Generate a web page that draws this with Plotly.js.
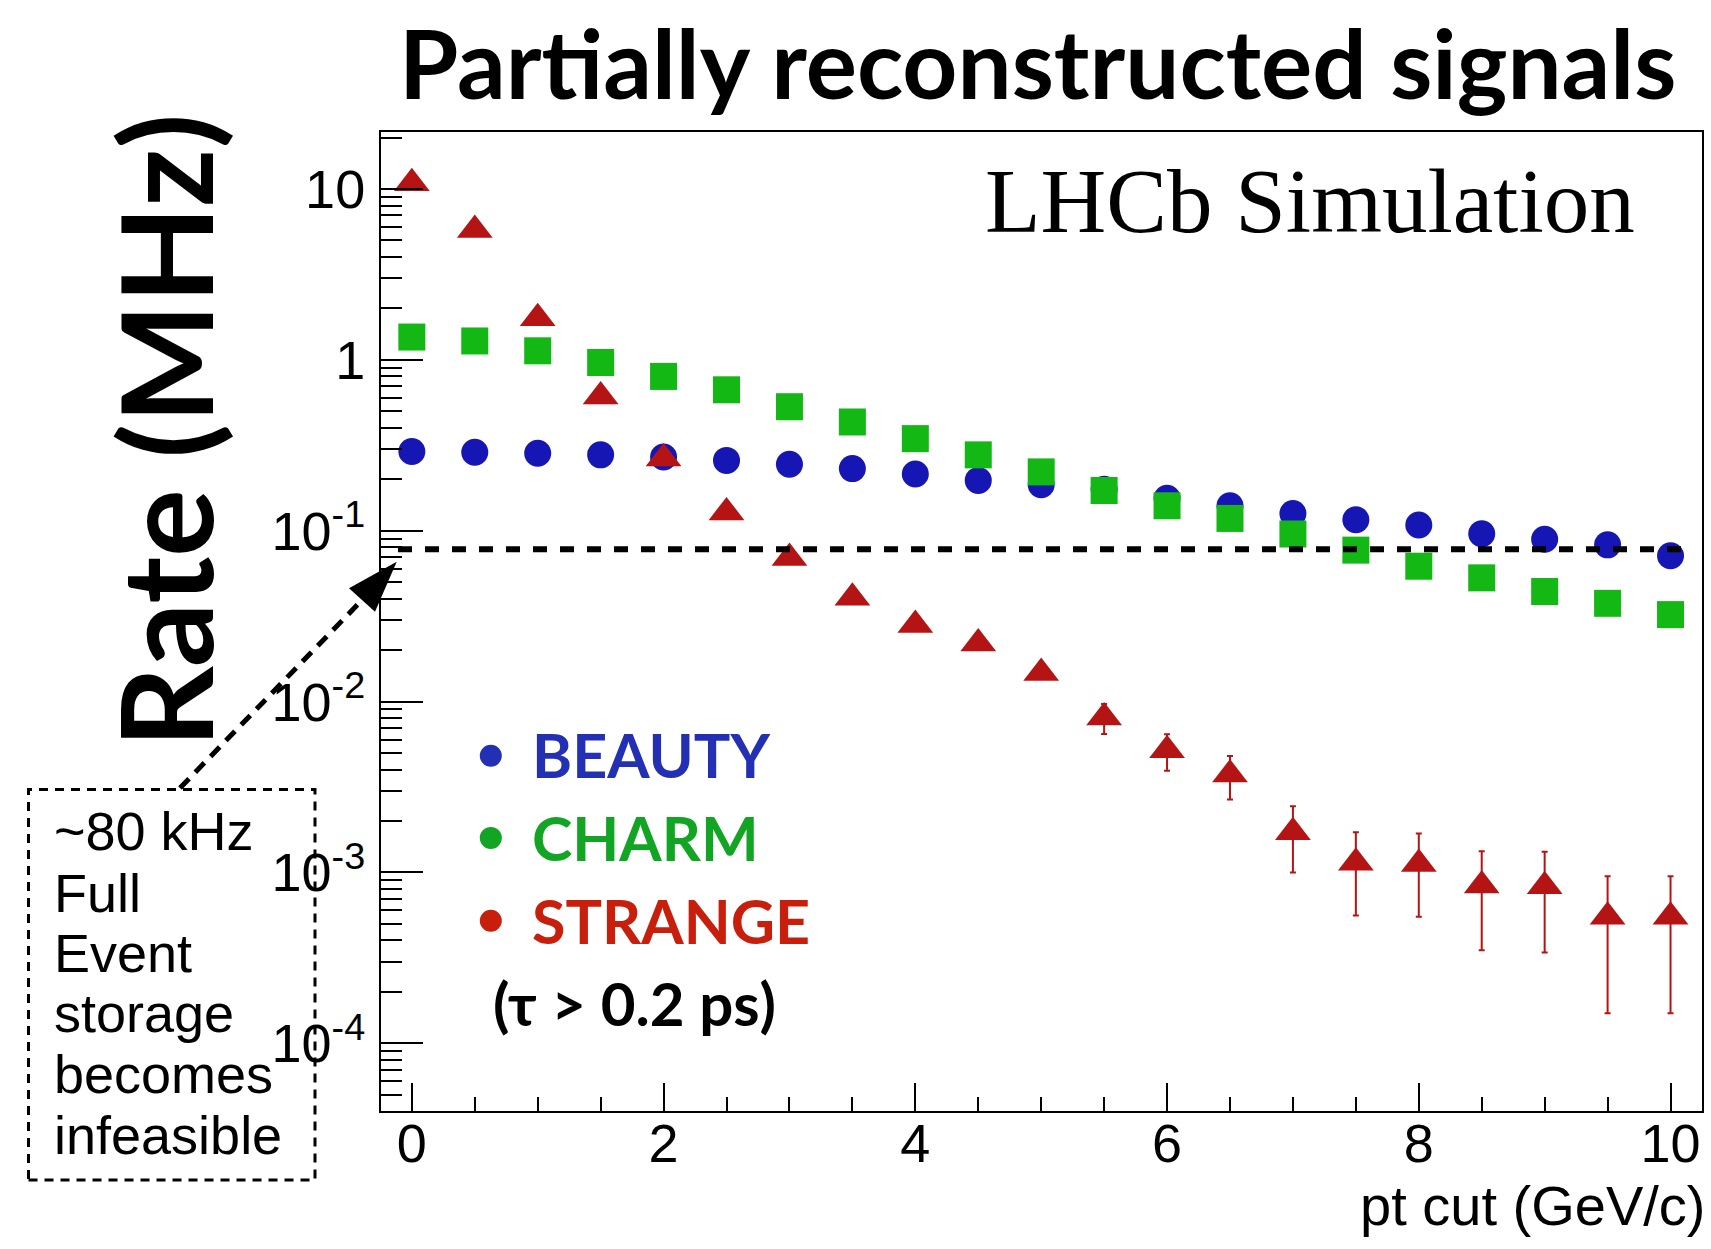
<!DOCTYPE html>
<html>
<head>
<meta charset="utf-8">
<script src="https://cdn.plot.ly/plotly-3.0.1.min.js"></script>
<style>
html,body{margin:0;padding:0;background:#ffffff;}
#chart{width:1711px;height:1249px;}
</style>
</head>
<body>
<div id="chart"></div>
<script>
// ---------------- data ----------------
const ptCut = [0, 0.5, 1, 1.5, 2, 2.5, 3, 3.5, 4, 4.5, 5, 5.5, 6, 6.5, 7, 7.5, 8, 8.5, 9, 9.5, 10];
const beautyRate = [0.291, 0.288, 0.284, 0.278, 0.270, 0.258, 0.245, 0.231, 0.215, 0.197, 0.186, 0.175, 0.155, 0.140, 0.126, 0.116, 0.108, 0.096, 0.0892, 0.0827, 0.0714];
const charmRate = [1.36, 1.29, 1.13, 0.965, 0.80, 0.668, 0.532, 0.433, 0.346, 0.278, 0.221, 0.172, 0.140, 0.118, 0.0957, 0.0770, 0.0620, 0.0530, 0.0441, 0.0376, 0.0323];
const strangeRate = [10.8, 5.75, 1.75, 0.61, 0.265, 0.128, 0.0692, 0.0406, 0.0281, 0.0219, 0.0147, 0.00807, 0.00519, 0.00374, 0.00172, 0.00114, 0.00112, 0.00084, 0.00083, 0.00055, 0.00055];
const strangeErr = [0.5, 0.3, 0.1, 0.035, 0.015, 0.007, 0.0035, 0.002, 0.0014, 0.0011, 0.0009, 0.0016, 0.00125, 0.00107, 0.00072, 0.00058, 0.00057, 0.00049, 0.00049, 0.0004, 0.0004];
const thresholdRate = 0.078;   // ~80 kHz
const yTickVals = [1e-4, 1e-3, 1e-2, 1e-1, 1, 10];
const yTickText = ['10<sup>-4</sup>', '10<sup>-3</sup>', '10<sup>-2</sup>', '10<sup>-1</sup>', '1', '10'];
const seriesNames = ['BEAUTY', 'CHARM', 'STRANGE'];
const boxLines = ['~80 kHz', 'Full', 'Event', 'storage', 'becomes', 'infeasible'];

// minor tick positions of the log axis (2..9 x 10^n)
const yMinorVals = [];
for (let e = -5; e <= 1; e++) { for (let m = 2; m <= 9; m++) { yMinorVals.push(m * Math.pow(10, e)); } }

// ---------------- layout geometry ----------------
const W = 1711, H = 1249, ML = 381, MR = 9, MT = 132, MB = 138;
const PW = W - ML - MR, PH = H - MT - MB;
const px = v => (v - ML) / PW;          // pixel x -> paper x
const py = v => (H - MB - v) / PH;      // pixel y -> paper y

const SANS = 'Liberation Sans, Arial, Helvetica, sans-serif';
const GEO = 'Lato, Open Sans, sans-serif';
const SERIF = 'Liberation Serif, Times New Roman, serif';

const cBeauty = '#1616b4', cCharm = '#14b814', cStrange = '#b51414';
const tBeauty = '#2330b4', tCharm = '#12a524', tStrange = '#c81e0c';
const yRange = [-4.396, 1.3336];

const traces = [
  {x: ptCut, y: beautyRate, type: 'scatter', mode: 'markers', name: seriesNames[0],
   marker: {symbol: 'circle', size: 27, color: cBeauty, line: {width: 0}}},
  {x: ptCut, y: charmRate, type: 'scatter', mode: 'markers', name: seriesNames[1],
   marker: {symbol: 'square', size: 27, color: cCharm, line: {width: 0}}},
  {x: ptCut, y: strangeRate, type: 'scatter', mode: 'markers', name: seriesNames[2], yaxis: 'y2',
   marker: {symbol: 'triangle-up', size: 31, color: cStrange, line: {width: 0}},
   error_y: {type: 'data', array: strangeErr, visible: true, color: cStrange, thickness: 2, width: 3}}
];

const annotations = [
  {text: 'Partially reconstructed signals', x: px(1037), y: py(61), xanchor: 'center',
   font: {family: GEO, size: 96, color: '#000', weight: 700}},
  {text: 'Rate (MHz)', x: px(164), y: py(431), textangle: -90, xanchor: 'center',
   font: {family: GEO, size: 127, color: '#000', weight: 700}},
  {text: 'pt cut (GeV/c)', x: px(1707), y: py(1205), xanchor: 'right',
   font: {family: SANS, size: 56, color: '#000'}},
  {text: 'LHCb Simulation', x: px(1637), y: py(201), xanchor: 'right',
   font: {family: SERIF, size: 91, color: '#000'}},
  {text: seriesNames[0], x: px(530), y: py(754), xanchor: 'left',
   font: {family: GEO, size: 61, color: tBeauty, weight: 700}},
  {text: seriesNames[1], x: px(530), y: py(837), xanchor: 'left',
   font: {family: GEO, size: 61, color: tCharm, weight: 700}},
  {text: seriesNames[2], x: px(530), y: py(920), xanchor: 'left',
   font: {family: GEO, size: 61, color: tStrange, weight: 700}},
  {text: '(\u03c4 > 0.2 ps)', x: px(491), y: py(1003), xanchor: 'left',
   font: {family: GEO, size: 60, color: '#000', weight: 700}}
];
const boxBaselines = [850, 911.7, 971.7, 1031.7, 1092.7, 1154];
boxLines.forEach((t, i) => {
  annotations.push({text: t, x: px(52), y: py(boxBaselines[i] - 19), xanchor: 'left',
    font: {family: SANS, size: 54, color: '#000'}});
});
annotations.forEach(a => { a.xref = 'paper'; a.yref = 'paper'; a.showarrow = false; a.yanchor = 'middle'; });

// arrow head geometry
const tip = [396.7, 561.7], c1 = [349, 588.3], c2 = [375, 611.7];
const headPath = 'M ' + px(tip[0]) + ',' + py(tip[1]) + ' L ' + px(c1[0]) + ',' + py(c1[1]) +
                 ' L ' + px(c2[0]) + ',' + py(c2[1]) + ' Z';

const dot = (cx, cy, col) => ({type: 'circle', xref: 'paper', yref: 'paper', xsizemode: 'pixel', ysizemode: 'pixel',
  xanchor: px(cx), yanchor: py(cy), x0: -11, x1: 11, y0: -11, y1: 11, fillcolor: col, line: {width: 0}});

const shapes = [
  // ~80 kHz threshold
  {type: 'line', xref: 'paper', yref: 'y', x0: px(398), x1: px(1693), y0: thresholdRate, y1: thresholdRate,
   line: {color: '#000', width: 6, dash: '14px,13px'}, layer: 'above'},
  // annotation box
  {type: 'rect', xref: 'paper', yref: 'paper', x0: px(28.5), x1: px(315), y0: py(1180), y1: py(789.5),
   line: {color: '#000', width: 3, dash: '9px,7px'}, fillcolor: 'rgba(0,0,0,0)'},
  // arrow shaft
  {type: 'line', xref: 'paper', yref: 'paper', x0: px(180), y0: py(788), x1: px(364), y1: py(598),
   line: {color: '#000', width: 5, dash: '13px,9px'}},
  // arrow head
  {type: 'path', xref: 'paper', yref: 'paper', path: headPath, fillcolor: '#000', line: {width: 0}},
  dot(490.8, 755.7, tBeauty),
  dot(490.8, 837.9, tCharm),
  dot(490.8, 920.7, tStrange)
];

const layout = {
  width: W, height: H,
  margin: {l: ML, r: MR, t: MT, b: MB, pad: 0},
  paper_bgcolor: '#ffffff', plot_bgcolor: '#ffffff',
  showlegend: false,
  font: {family: SANS, color: '#000'},
  xaxis: {
    range: [-0.245, 10.25], tick0: 0, dtick: 2, ticks: 'inside', ticklen: 28, tickwidth: 2, tickcolor: '#000',
    showline: true, linewidth: 2, linecolor: '#000', mirror: true, showgrid: false, zeroline: false,
    tickfont: {family: SANS, size: 54, color: '#000'}, ticklabelstandoff: -16,
    minor: {dtick: 0.5, tick0: 0, ticks: 'inside', ticklen: 14, tickwidth: 2, tickcolor: '#000', showgrid: false}
  },
  yaxis: {
    type: 'log', range: yRange, tickmode: 'array', tickvals: yTickVals, ticktext: yTickText,
    ticks: 'inside', ticklen: 42, tickwidth: 2, tickcolor: '#000',
    showline: true, linewidth: 2, linecolor: '#000', mirror: true, showgrid: false, zeroline: false,
    tickfont: {family: SANS, size: 54, color: '#000'}, ticklabelstandoff: 3
  },
  yaxis2: {
    type: 'log', range: yRange, overlaying: 'y', side: 'left', anchor: 'x',
    tickmode: 'array', tickvals: yMinorVals, showticklabels: false,
    ticks: 'inside', ticklen: 21, tickwidth: 2, tickcolor: '#000',
    showline: false, showgrid: false, zeroline: false
  },
  annotations: annotations,
  shapes: shapes
};

Plotly.newPlot('chart', traces, layout, {staticPlot: true, displayModeBar: false});
</script>
</body>
</html>
